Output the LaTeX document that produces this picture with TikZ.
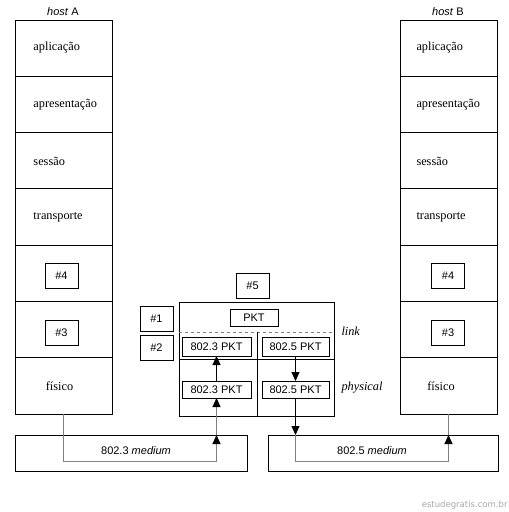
\documentclass[tikz,border=0pt]{standalone}
\usepackage{fontspec}
\setmainfont{Liberation Serif}
\setsansfont{Liberation Sans}
\newfontfamily\wmfont{DejaVu Sans}
\usetikzlibrary{arrows.meta}
\begin{document}
\begin{tikzpicture}[x=1pt,y=-1pt,
  line width=1pt,
  layer/.style={draw, inner sep=0, outer sep=0, minimum width=97pt, minimum height=56.3pt, anchor=north west},
  ltext/.style={anchor=west, inner sep=0, font=\fontsize{12.3}{14}\selectfont},
  lab/.style={draw, inner sep=0, outer sep=0, font=\sffamily\fontsize{11}{12}\selectfont},
  sbox/.style={lab, minimum width=33pt, minimum height=25pt},
  pkt/.style={lab, minimum width=69pt, minimum height=19pt},
  stext/.style={inner sep=0, font=\sffamily\fontsize{11}{12}\selectfont},
  side/.style={anchor=west, inner sep=0, font=\itshape\fontsize{12.3}{14}\selectfont},
  tip/.style={-{Triangle[length=9pt,width=8pt,color=black]}}
]
\useasboundingbox (0,0) rectangle (509,512);

% host A
\node[stext] (hA) at (63,12) {\textit{host} A};
\node[layer] (A1) at (15,20) {};
\node[layer] (A2) at (15,76.3) {};
\node[layer] (A3) at (15,132.6) {};
\node[layer] (A4) at (15,188.9) {};
\node[layer] (A5) at (15,245.2) {};
\node[layer] (A6) at (15,301.5) {};
\node[layer] (A7) at (15,357.8) {};
\node[ltext] (A1t) at (33,48) {aplicação};
\node[ltext] (A2t) at (33,104.5) {apresentação};
\node[ltext] (A3t) at (33,161) {sessão};
\node[ltext] (A4t) at (33,217) {transporte};
\node[sbox] (A5b) at (61.5,275.5) {\#4};
\node[sbox] (A6b) at (61.5,332.5) {\#3};
\node[ltext, anchor=center] (A7t) at (59.5,386) {físico};

% host B
\node[stext] (hB) at (448,12) {\textit{host} B};
\node[layer] (B1) at (400,20) {};
\node[layer] (B2) at (400,76.3) {};
\node[layer] (B3) at (400,132.6) {};
\node[layer] (B4) at (400,188.9) {};
\node[layer] (B5) at (400,245.2) {};
\node[layer] (B6) at (400,301.5) {};
\node[layer] (B7) at (400,357.8) {};
\node[ltext] (B1t) at (416,48) {aplicação};
\node[ltext] (B2t) at (416,104.5) {apresentação};
\node[ltext] (B3t) at (416,161) {sessão};
\node[ltext] (B4t) at (416,217) {transporte};
\node[sbox] (B5b) at (448,276) {\#4};
\node[sbox] (B6b) at (448,333) {\#3};
\node[ltext, anchor=center] (B7t) at (441,386) {físico};

% router
\node[draw, inner sep=0, outer sep=0, minimum width=155pt, minimum height=114pt, anchor=north west] (R) at (179,302) {};
\draw[gray, dashed, line width=0.8pt] (179,332) -- (334,332);
\draw (179,359) -- (334,359);
\draw (257,332) -- (257,416);
\node[sbox] (n5) at (252.5,286) {\#5};
\node[sbox] (n1) at (156.5,318.5) {\#1};
\node[sbox] (n2) at (156.5,347.5) {\#2};
\node[lab, minimum width=48pt, minimum height=17pt] (pkt) at (254,317.5) {PKT};
\node[pkt] (U3) at (216.5,346.5) {802.3 PKT};
\node[pkt, minimum width=67pt] (U5) at (295.5,346.5) {802.5 PKT};
\node[pkt, minimum height=17pt] (L3) at (216.5,389.5) {802.3 PKT};
\node[pkt, minimum width=67pt, minimum height=17pt] (L5) at (295.5,389.5) {802.5 PKT};
\node[side] (link) at (341,331) {link};
\node[side] (phys) at (341,388) {physical};

% media
\node[draw, inner sep=0, outer sep=0, minimum width=232pt, minimum height=36pt, anchor=north west] (M3) at (15,435) {};
\node[draw, inner sep=0, outer sep=0, minimum width=230pt, minimum height=36pt, anchor=north west] (M5) at (268,435) {};
\node[stext] (M3t) at (136,451) {802.3 \textit{medium}};
\node[stext] (M5t) at (372,451) {802.5 \textit{medium}};
\coordinate (low) at (0,461);

% connectors
\draw[tip] (L3.north) -- (U3.south);
\draw[tip] (U5.south) -- (L5.north);
\draw[gray, tip] (A7.south) -- (A7.south |- low) -- (L3.south |- low) -- (L3.south |- M3.north);
\draw[gray, tip] (L3.south |- M3.north) -- (L3.south);
\draw[tip] (L5.south) -- (L5.south |- M5.north);
\draw[gray, tip] (L5.south |- M5.north) -- (L5.south |- low) -- (B7.south |- low) -- (B7.south |- M5.north);
\draw[gray] (B7.south |- M5.north) -- (B7.south);

% watermark
\node[anchor=east, inner sep=0, text=black!35] (wm) at (508,505) {\wmfont\fontsize{8.5}{10}\selectfont estudegratis.com.br};
\end{tikzpicture}
\end{document}
